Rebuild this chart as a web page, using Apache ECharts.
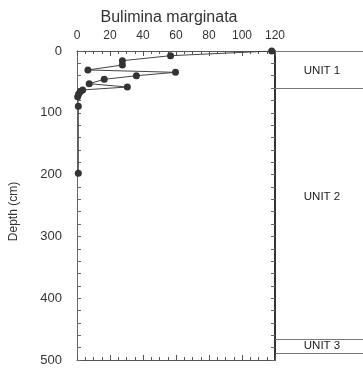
<!DOCTYPE html>
<html><head><meta charset="utf-8">
<script src="https://cdn.jsdelivr.net/npm/echarts@6/dist/echarts.min.js"></script>
<style>html,body{margin:0;padding:0;background:#fff}#c{width:363px;height:370px}</style>
</head><body><div id="c"></div>
<script>
var title = "Bulimina marginata";
var yName = "Depth (cm)";
var abundance = [118, 56.7, 27.5, 27.5, 6.6, 59.7, 36, 16.5, 7.4, 30.5, 3.4, 2, 1, 0.4, 0.8, 0.8];
var depth = [0, 7.6, 15.7, 22.7, 30.7, 34.5, 40, 45.8, 52.9, 58.3, 63, 65.9, 69.6, 74, 89.5, 198];
var unitBoundaries = [0, 60, 466, 489];
var unitNames = ["UNIT 1", "UNIT 2", "UNIT 3"];
var unitLabelDepth = [33, 236, 478];

var FONT = "Liberation Sans, Arial, sans-serif";
var C = "#333";
var AX = "#555";
var pts = abundance.map(function(v, i){ return [v, depth[i]]; });
var labelPts = unitNames.map(function(n, i){ return {value: [0.54, unitLabelDepth[i]], name: n}; });

function xAx(pos, interval, tickLen, showLabel, showLine) {
  return {gridIndex: 0, type: 'value', position: pos, min: 0, max: 120, interval: interval,
    axisLine: {show: showLine, onZero: false, lineStyle: {color: AX, width: 1}},
    axisTick: {show: true, inside: true, length: tickLen, lineStyle: {color: AX}},
    splitLine: {show: false},
    axisLabel: {show: showLabel, margin: 9, fontFamily: FONT, fontSize: 12, color: C}};
}
function yAx(pos, interval, lineW, showLabel) {
  return {gridIndex: 0, type: 'value', inverse: true, position: pos, min: 0, max: 500, interval: interval,
    axisLine: {show: true, onZero: false, lineStyle: {color: lineW > 1 ? '#333' : '#666', width: lineW}},
    axisTick: {show: true, inside: true, length: 4, lineStyle: {color: '#666'}},
    splitLine: {show: false},
    axisLabel: {show: showLabel, margin: 15, fontFamily: FONT, fontSize: 13, color: C}};
}
function ghost(xi, yi) {
  return {type: 'line', xAxisIndex: xi, yAxisIndex: yi, data: pts, silent: true,
    symbol: 'none', lineStyle: {opacity: 0}, itemStyle: {opacity: 0}, z: 0};
}

var yLeft = yAx('left', 100, 1, true);
yLeft.name = yName; yLeft.nameLocation = 'middle'; yLeft.nameGap = 57; yLeft.nameRotate = 90;
yLeft.nameTextStyle = {fontFamily: FONT, fontSize: 12, color: C, padding: [0, 12, 0, 0]};

var chart = echarts.init(document.getElementById('c'), null, {renderer: 'canvas'});
chart.setOption({
  animation: false,
  backgroundColor: '#fff',
  title: {text: title, left: 164, top: 5, textAlign: 'center',
    textStyle: {fontFamily: FONT, fontSize: 16, fontWeight: 'normal', color: C}},
  grid: [
    {left: 76, right: 88, top: 51, bottom: 10},
    {left: 275, right: 0, top: 51, bottom: 10}
  ],
  xAxis: [
    xAx('top', 20, 5, true, true),
    xAx('top', 5, 3, false, false),
    xAx('bottom', 20, 5, false, true),
    xAx('bottom', 5, 3, false, false),
    {gridIndex: 1, type: 'value', min: 0, max: 1, show: false}
  ],
  yAxis: [
    yLeft,
    yAx('left', 20, 1, false),
    yAx('right', 20, 2, false),
    {gridIndex: 1, type: 'value', inverse: true, min: 0, max: 500, show: false}
  ],
  series: [
    ghost(1, 1), ghost(2, 2), ghost(3, 2),
    {type: 'line', xAxisIndex: 0, yAxisIndex: 0, data: pts, z: 5,
      symbol: 'circle', symbolSize: 7, itemStyle: {color: C},
      lineStyle: {color: '#444', width: 1}},
    {type: 'scatter', xAxisIndex: 4, yAxisIndex: 3, data: labelPts, symbolSize: 1,
      itemStyle: {color: 'rgba(0,0,0,0)'},
      label: {show: true, position: [0, 0], align: 'center', verticalAlign: 'middle',
        formatter: '{b}', textBorderWidth: 0, opacity: 1,
        fontFamily: FONT, fontSize: 11.5, color: '#222'},
      markLine: {silent: true, symbol: 'none', label: {show: false},
        lineStyle: {color: '#777', width: 1, type: 'solid'},
        data: unitBoundaries.map(function(d){ return {yAxis: d}; })}}
  ]
});
</script></body></html>
